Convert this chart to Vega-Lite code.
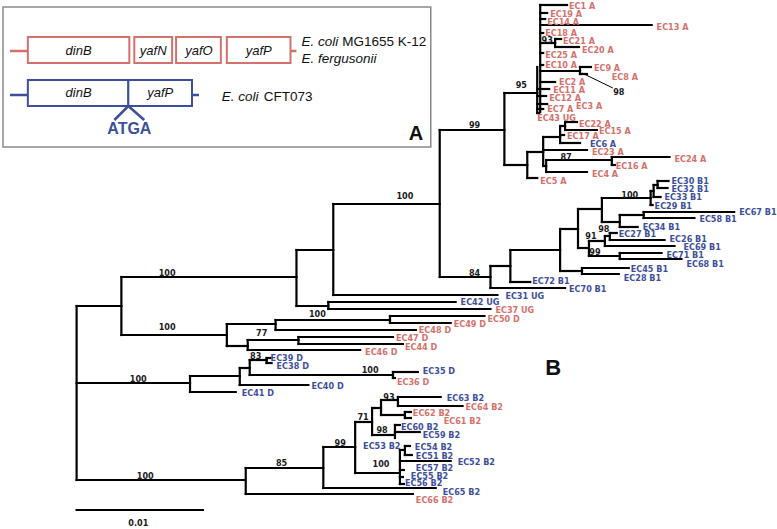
{
  "$schema": "https://vega.github.io/schema/vega-lite/v6.json",
  "width": 777,
  "height": 529,
  "autosize": {"type": "fit", "contains": "padding"},
  "padding": 0,
  "background": "white",
  "config": {"view": {"stroke": null}},
  "encoding": {
    "x": {"field": "x", "type": "quantitative", "scale": {"domain": [0, 777], "nice": false, "zero": false}, "axis": null},
    "y": {"field": "y", "type": "quantitative", "scale": {"domain": [0, 529], "nice": false, "zero": false, "reverse": true}, "axis": null}
  },
  "layer": [
    {
      "data": {"values": [{"x": 3, "y": 7, "x2": 433, "y2": 147}]},
      "mark": {"type": "rect", "fill": "white", "stroke": "#8a8a8a", "strokeWidth": 1.5},
      "encoding": {"x2": {"field": "x2"}, "y2": {"field": "y2"}}
    },
    {
      "data": {"values": [
        {"org": "K12", "x": 10, "y": 51, "x2": 28, "y2": 51},
        {"org": "K12", "x": 292, "y": 51, "x2": 298, "y2": 51},
        {"org": "CFT073", "x": 10, "y": 95, "x2": 28, "y2": 95},
        {"org": "CFT073", "x": 193, "y": 95, "x2": 200, "y2": 95},
        {"org": "CFT073", "x": 129, "y": 106, "x2": 115, "y2": 120},
        {"org": "CFT073", "x": 129, "y": 106, "x2": 145, "y2": 120}
      ]},
      "mark": {"type": "rule", "strokeWidth": 2.5},
      "encoding": {
        "x2": {"field": "x2"}, "y2": {"field": "y2"},
        "color": {"field": "org", "type": "nominal", "scale": {"domain": ["K12", "CFT073"], "range": ["#d4716b", "#3d4f9c"]}, "legend": null}
      }
    },
    {
      "data": {"values": [
        {"org": "K12", "gene": "dinB", "x": 28, "y": 37, "x2": 130, "y2": 63},
        {"org": "K12", "gene": "yafN", "x": 135, "y": 37, "x2": 173, "y2": 63},
        {"org": "K12", "gene": "yafO", "x": 177, "y": 37, "x2": 222, "y2": 63},
        {"org": "K12", "gene": "yafP", "x": 228, "y": 37, "x2": 292, "y2": 63},
        {"org": "CFT073", "gene": "dinB", "x": 28, "y": 80, "x2": 129, "y2": 106},
        {"org": "CFT073", "gene": "yafP", "x": 129, "y": 80, "x2": 193, "y2": 106}
      ]},
      "mark": {"type": "rect", "fill": "white", "strokeWidth": 2},
      "encoding": {
        "x2": {"field": "x2"}, "y2": {"field": "y2"},
        "stroke": {"field": "org", "type": "nominal", "scale": {"domain": ["K12", "CFT073"], "range": ["#d4716b", "#3d4f9c"]}, "legend": null}
      }
    },
    {
      "data": {"values": [
        {"t": "dinB", "x": 79, "y": 51},
        {"t": "yafN", "x": 154, "y": 51},
        {"t": "yafO", "x": 200, "y": 51},
        {"t": "yafP", "x": 260, "y": 51},
        {"t": "dinB", "x": 79, "y": 93},
        {"t": "yafP", "x": 161, "y": 93}
      ]},
      "mark": {"type": "text", "font": "Liberation Sans", "fontSize": 13, "fontStyle": "italic", "align": "center", "baseline": "middle", "color": "#111"},
      "encoding": {"text": {"field": "t"}}
    },
    {
      "data": {"values": [
        {"t": "E. coli", "x": 303, "y": 42},
        {"t": "E. fergusonii", "x": 303, "y": 59},
        {"t": "E. coli", "x": 223, "y": 97}
      ]},
      "mark": {"type": "text", "font": "Liberation Sans", "fontSize": 13.5, "fontStyle": "italic", "align": "left", "baseline": "middle", "color": "#111"},
      "encoding": {"text": {"field": "t"}}
    },
    {
      "data": {"values": [
        {"t": "MG1655 K-12", "x": 344, "y": 42},
        {"t": "CFT073", "x": 265, "y": 97}
      ]},
      "mark": {"type": "text", "font": "Liberation Sans", "fontSize": 13.5, "align": "left", "baseline": "middle", "color": "#111"},
      "encoding": {"text": {"field": "t"}}
    },
    {
      "data": {"values": [{"t": "ATGA", "x": 130, "y": 129}]},
      "mark": {"type": "text", "font": "Liberation Sans", "fontSize": 16, "fontWeight": "bold", "align": "center", "baseline": "middle", "color": "#3d4f9c"},
      "encoding": {"text": {"field": "t"}}
    },
    {
      "data": {"values": [{"t": "A", "x": 418, "y": 134, "s": 20}, {"t": "B", "x": 556, "y": 368, "s": 22}]},
      "mark": {"type": "text", "font": "Liberation Sans", "fontWeight": "bold", "align": "center", "baseline": "middle", "color": "#111"},
      "encoding": {"text": {"field": "t"}, "size": {"field": "s", "type": "quantitative", "scale": null}}
    },
    {
      "data": {"values": [
        {"x":77,"y":306,"x2":77,"y2":480},{"x":77,"y":306,"x2":122,"y2":306},{"x":77,"y":383,"x2":191,"y2":383},{"x":77,"y":480,"x2":247,"y2":480},
        {"x":122,"y":277,"x2":122,"y2":335},{"x":122,"y":277,"x2":298,"y2":277},{"x":122,"y":335,"x2":228,"y2":335},
        {"x":298,"y":250,"x2":298,"y2":306},{"x":298,"y":250,"x2":335,"y2":250},{"x":298,"y":306,"x2":330,"y2":306},
        {"x":330,"y":302,"x2":330,"y2":309},{"x":330,"y":302,"x2":458,"y2":302},{"x":330,"y":309,"x2":493,"y2":309},
        {"x":335,"y":204,"x2":335,"y2":295},{"x":335,"y":204,"x2":442,"y2":204},{"x":335,"y":295,"x2":500,"y2":295},
        {"x":442,"y":130,"x2":442,"y2":277},{"x":442,"y":130,"x2":507,"y2":130},{"x":442,"y":277,"x2":493,"y2":277},
        {"x":493,"y":266,"x2":493,"y2":288},{"x":493,"y":266,"x2":513,"y2":266},{"x":493,"y":288,"x2":568,"y2":288},
        {"x":513,"y":250,"x2":513,"y2":282},{"x":513,"y":282,"x2":533,"y2":282},{"x":513,"y":250,"x2":563,"y2":250},
        {"x":563,"y":229,"x2":563,"y2":271},{"x":563,"y":229,"x2":581,"y2":229},{"x":563,"y":271,"x2":585,"y2":271},
        {"x":585,"y":268,"x2":585,"y2":274},{"x":585,"y":268,"x2":632,"y2":268},{"x":585,"y":274,"x2":622,"y2":274},
        {"x":581,"y":209,"x2":581,"y2":248},{"x":581,"y":209,"x2":605,"y2":209},{"x":581,"y":248,"x2":592,"y2":248},
        {"x":605,"y":198,"x2":605,"y2":222},{"x":605,"y":198,"x2":654,"y2":198},{"x":605,"y":222,"x2":623,"y2":222},
        {"x":623,"y":215,"x2":623,"y2":227},{"x":623,"y":215,"x2":647,"y2":215},{"x":623,"y":227,"x2":641,"y2":227},
        {"x":647,"y":212,"x2":647,"y2":218},{"x":647,"y":212,"x2":738,"y2":212},{"x":647,"y":218,"x2":698,"y2":218},
        {"x":654,"y":191,"x2":654,"y2":205},{"x":654,"y":205,"x2":656,"y2":205},{"x":654,"y":191,"x2":657,"y2":191},
        {"x":657,"y":185,"x2":657,"y2":197},{"x":657,"y":197,"x2":664,"y2":197},{"x":657,"y":185,"x2":661,"y2":185},
        {"x":661,"y":181,"x2":661,"y2":188},{"x":661,"y":181,"x2":672,"y2":181},{"x":661,"y":188,"x2":671,"y2":188},
        {"x":592,"y":241,"x2":592,"y2":256},{"x":592,"y":241,"x2":608,"y2":241},{"x":592,"y":256,"x2":623,"y2":256},
        {"x":623,"y":253,"x2":623,"y2":259},{"x":623,"y":253,"x2":665,"y2":253},{"x":623,"y":259,"x2":685,"y2":259},
        {"x":608,"y":236,"x2":608,"y2":246},{"x":608,"y":236,"x2":613,"y2":236},{"x":608,"y":246,"x2":678,"y2":246},
        {"x":613,"y":233,"x2":613,"y2":240},{"x":613,"y":233,"x2":620,"y2":233},{"x":613,"y":240,"x2":668,"y2":240},
        {"x":228,"y":324,"x2":228,"y2":346},{"x":228,"y":324,"x2":277,"y2":324},{"x":228,"y":346,"x2":249,"y2":346},
        {"x":277,"y":320,"x2":277,"y2":330},{"x":277,"y":320,"x2":392,"y2":320},{"x":277,"y":330,"x2":418,"y2":330},
        {"x":392,"y":316,"x2":392,"y2":323},{"x":392,"y":316,"x2":487,"y2":316},{"x":392,"y":323,"x2":453,"y2":323},
        {"x":249,"y":340,"x2":249,"y2":350},{"x":249,"y":340,"x2":300,"y2":340},{"x":249,"y":350,"x2":362,"y2":350},
        {"x":300,"y":337,"x2":300,"y2":344},{"x":300,"y":337,"x2":395,"y2":337},{"x":300,"y":344,"x2":405,"y2":344},
        {"x":191,"y":376,"x2":191,"y2":392},{"x":191,"y":376,"x2":241,"y2":376},{"x":191,"y":392,"x2":237,"y2":392},
        {"x":241,"y":368,"x2":241,"y2":385},{"x":241,"y":368,"x2":251,"y2":368},{"x":241,"y":385,"x2":310,"y2":385},
        {"x":251,"y":360,"x2":251,"y2":375},{"x":251,"y":360,"x2":268,"y2":360},{"x":251,"y":375,"x2":395,"y2":375},
        {"x":268,"y":358,"x2":268,"y2":363},{"x":268,"y":358,"x2":272,"y2":358},{"x":268,"y":363,"x2":273,"y2":363},
        {"x":395,"y":372,"x2":395,"y2":378},{"x":395,"y":372,"x2":420,"y2":372},{"x":395,"y":378,"x2":397,"y2":378},
        {"x":247,"y":468,"x2":247,"y2":494},{"x":247,"y":468,"x2":325,"y2":468},{"x":247,"y":494,"x2":415,"y2":494},
        {"x":325,"y":447,"x2":325,"y2":488},{"x":325,"y":447,"x2":357,"y2":447},{"x":325,"y":488,"x2":438,"y2":488},
        {"x":357,"y":422,"x2":357,"y2":473},{"x":357,"y":422,"x2":374,"y2":422},{"x":357,"y":473,"x2":402,"y2":473},
        {"x":374,"y":408,"x2":374,"y2":435},{"x":374,"y":408,"x2":383,"y2":408},{"x":374,"y":435,"x2":397,"y2":435},
        {"x":383,"y":400,"x2":383,"y2":415},{"x":383,"y":400,"x2":400,"y2":400},{"x":383,"y":415,"x2":407,"y2":415},
        {"x":400,"y":397,"x2":400,"y2":406},{"x":400,"y":397,"x2":443,"y2":397},{"x":400,"y":406,"x2":465,"y2":406},
        {"x":407,"y":412,"x2":407,"y2":418},{"x":407,"y":412,"x2":413,"y2":412},{"x":407,"y":418,"x2":413,"y2":418},
        {"x":397,"y":425,"x2":397,"y2":438},{"x":397,"y":425,"x2":402,"y2":425},{"x":397,"y":432,"x2":422,"y2":432},
        {"x":402,"y":450,"x2":402,"y2":484},{"x":402,"y":450,"x2":407,"y2":450},
        {"x":407,"y":446,"x2":407,"y2":455},{"x":407,"y":446,"x2":412,"y2":446},{"x":407,"y":455,"x2":414,"y2":455},
        {"x":402,"y":461,"x2":453,"y2":461},{"x":402,"y":470,"x2":406,"y2":470},{"x":402,"y":477,"x2":405,"y2":477},{"x":402,"y":484,"x2":406,"y2":484},
        {"x":507,"y":93,"x2":507,"y2":165},{"x":507,"y":93,"x2":540,"y2":93},{"x":507,"y":165,"x2":530,"y2":165},
        {"x":530,"y":152,"x2":530,"y2":178},{"x":530,"y":178,"x2":540,"y2":178},{"x":530,"y":152,"x2":546,"y2":152},
        {"x":546,"y":137,"x2":546,"y2":166},{"x":546,"y":137,"x2":563,"y2":137},{"x":546,"y":150,"x2":590,"y2":150},{"x":546,"y":166,"x2":549,"y2":166},
        {"x":549,"y":160,"x2":549,"y2":172},{"x":549,"y":160,"x2":615,"y2":160},{"x":549,"y":172,"x2":590,"y2":172},
        {"x":615,"y":157,"x2":615,"y2":165},{"x":615,"y":157,"x2":673,"y2":157},{"x":615,"y":165,"x2":618,"y2":165},
        {"x":563,"y":126,"x2":563,"y2":143},{"x":563,"y":126,"x2":568,"y2":126},{"x":563,"y":135,"x2":567,"y2":135},{"x":563,"y":143,"x2":583,"y2":143},
        {"x":568,"y":122,"x2":568,"y2":130},{"x":568,"y":122,"x2":580,"y2":122},{"x":568,"y":130,"x2":600,"y2":130},
        {"x":540,"y":67,"x2":540,"y2":113},{"x":543,"y":5,"x2":543,"y2":112},
        {"x":543,"y":5,"x2":570,"y2":5},{"x":543,"y":13,"x2":550,"y2":13},{"x":543,"y":19,"x2":548,"y2":19},{"x":543,"y":25,"x2":655,"y2":25},
        {"x":543,"y":33,"x2":546,"y2":33},{"x":543,"y":43,"x2":558,"y2":43},
        {"x":558,"y":39,"x2":558,"y2":47},{"x":558,"y":39,"x2":564,"y2":39},{"x":558,"y":47,"x2":582,"y2":47},
        {"x":543,"y":53,"x2":546,"y2":53},{"x":543,"y":65,"x2":546,"y2":65},{"x":543,"y":71,"x2":583,"y2":71},
        {"x":583,"y":67,"x2":583,"y2":74},{"x":583,"y":67,"x2":594,"y2":67},{"x":583,"y":74,"x2":590,"y2":74},
        {"x":543,"y":82,"x2":558,"y2":82},{"x":540,"y":89,"x2":552,"y2":89},{"x":540,"y":96,"x2":549,"y2":96},
        {"x":540,"y":104,"x2":550,"y2":104},{"x":540,"y":109,"x2":546,"y2":109},{"x":540,"y":113,"x2":542,"y2":113},
        {"x":77,"y":510,"x2":204,"y2":510}
      ]},
      "mark": {"type": "rule", "strokeWidth": 2.2, "strokeCap": "square", "color": "#000"},
      "encoding": {"x2": {"field": "x2"}, "y2": {"field": "y2"}}
    },
    {
      "data": {"values": [{"x": 585, "y": 73, "x2": 616, "y2": 88}]},
      "mark": {"type": "rule", "strokeWidth": 1, "color": "#000"},
      "encoding": {"x2": {"field": "x2"}, "y2": {"field": "y2"}}
    },
    {
      "data": {"values": [
        {"t":"EC1 A","x":572,"y":6,"k":"K12-like"},{"t":"EC19 A","x":553,"y":14,"k":"K12-like"},{"t":"EC14 A","x":550,"y":22,"k":"K12-like"},
        {"t":"EC13 A","x":660,"y":27,"k":"K12-like"},{"t":"EC18 A","x":548,"y":33,"k":"K12-like"},{"t":"EC21 A","x":566,"y":41,"k":"K12-like"},
        {"t":"EC20 A","x":585,"y":50,"k":"K12-like"},{"t":"EC25 A","x":548,"y":55,"k":"K12-like"},{"t":"EC10 A","x":548,"y":65,"k":"K12-like"},
        {"t":"EC9 A","x":597,"y":68,"k":"other"},{"t":"EC8 A","x":615,"y":77,"k":"K12-like"},{"t":"EC2 A","x":562,"y":82,"k":"K12-like"},
        {"t":"EC11 A","x":556,"y":90,"k":"K12-like"},{"t":"EC12 A","x":552,"y":98,"k":"K12-like"},{"t":"EC3 A","x":579,"y":106,"k":"K12-like"},
        {"t":"EC7 A","x":550,"y":109,"k":"K12-like"},{"t":"EC43 UG","x":540,"y":118,"k":"K12-like"},{"t":"EC22 A","x":582,"y":124,"k":"K12-like"},
        {"t":"EC15 A","x":602,"y":131,"k":"K12-like"},{"t":"EC17 A","x":570,"y":136,"k":"K12-like"},{"t":"EC6 A","x":593,"y":144,"k":"CFT073-like"},
        {"t":"EC23 A","x":595,"y":152,"k":"K12-like"},{"t":"EC24 A","x":678,"y":159,"k":"K12-like"},{"t":"EC16 A","x":619,"y":166,"k":"K12-like"},
        {"t":"EC4 A","x":595,"y":174,"k":"K12-like"},{"t":"EC5 A","x":543,"y":181,"k":"other"},
        {"t":"EC30 B1","x":675,"y":181,"k":"CFT073-like"},{"t":"EC32 B1","x":675,"y":189,"k":"CFT073-like"},{"t":"EC33 B1","x":668,"y":197,"k":"CFT073-like"},
        {"t":"EC29 B1","x":658,"y":206,"k":"CFT073-like"},{"t":"EC67 B1","x":743,"y":212,"k":"CFT073-like"},{"t":"EC58 B1","x":703,"y":219,"k":"CFT073-like"},
        {"t":"EC34 B1","x":646,"y":227,"k":"CFT073-like"},{"t":"EC27 B1","x":622,"y":234,"k":"CFT073-like"},{"t":"EC26 B1","x":673,"y":239,"k":"CFT073-like"},
        {"t":"EC69 B1","x":687,"y":247,"k":"CFT073-like"},{"t":"EC71 B1","x":670,"y":255,"k":"CFT073-like"},{"t":"EC68 B1","x":690,"y":264,"k":"CFT073-like"},
        {"t":"EC45 B1","x":634,"y":269,"k":"CFT073-like"},{"t":"EC28 B1","x":627,"y":278,"k":"CFT073-like"},{"t":"EC72 B1","x":535,"y":281,"k":"CFT073-like"},
        {"t":"EC70 B1","x":572,"y":289,"k":"CFT073-like"},{"t":"EC31 UG","x":508,"y":296,"k":"CFT073-like"},
        {"t":"EC42 UG","x":463,"y":302,"k":"CFT073-like"},{"t":"EC37 UG","x":498,"y":310,"k":"K12-like"},{"t":"EC50 D","x":490,"y":319,"k":"K12-like"},
        {"t":"EC49 D","x":456,"y":324,"k":"K12-like"},{"t":"EC48 D","x":421,"y":330,"k":"K12-like"},{"t":"EC47 D","x":398,"y":338,"k":"other"},
        {"t":"EC44 D","x":407,"y":347,"k":"K12-like"},{"t":"EC46 D","x":367,"y":352,"k":"K12-like"},{"t":"EC39 D","x":272,"y":358,"k":"CFT073-like"},
        {"t":"EC38 D","x":278,"y":366,"k":"CFT073-like"},{"t":"EC35 D","x":425,"y":371,"k":"CFT073-like"},{"t":"EC36 D","x":399,"y":382,"k":"K12-like"},
        {"t":"EC40 D","x":313,"y":386,"k":"CFT073-like"},{"t":"EC41 D","x":243,"y":393,"k":"CFT073-like"},
        {"t":"EC63 B2","x":449,"y":398,"k":"CFT073-like"},{"t":"EC64 B2","x":468,"y":407,"k":"other"},{"t":"EC62 B2","x":415,"y":413,"k":"K12-like"},
        {"t":"EC61 B2","x":446,"y":421,"k":"K12-like"},{"t":"EC60 B2","x":403,"y":427,"k":"CFT073-like"},{"t":"EC59 B2","x":425,"y":435,"k":"CFT073-like"},
        {"t":"EC53 B2","x":365,"y":446,"k":"CFT073-like"},{"t":"EC54 B2","x":417,"y":447,"k":"CFT073-like"},{"t":"EC51 B2","x":418,"y":456,"k":"CFT073-like"},
        {"t":"EC52 B2","x":460,"y":462,"k":"CFT073-like"},{"t":"EC57 B2","x":418,"y":468,"k":"CFT073-like"},{"t":"EC55 B2","x":413,"y":476,"k":"CFT073-like"},
        {"t":"EC56 B2","x":407,"y":483,"k":"CFT073-like"},{"t":"EC65 B2","x":445,"y":492,"k":"CFT073-like"},{"t":"EC66 B2","x":418,"y":500,"k":"K12-like"}
      ]},
      "mark": {"type": "text", "font": "DejaVu Sans Condensed, Liberation Sans Narrow, sans-serif", "fontSize": 9, "fontWeight": "bold", "align": "left", "baseline": "middle"},
      "encoding": {
        "text": {"field": "t"},
        "color": {"field": "k", "type": "nominal", "scale": {"domain": ["K12-like", "CFT073-like", "other"], "range": ["#a8301f", "#3f5ca8", "#1a1a1a"]}, "legend": null}
      }
    },
    {
      "data": {"values": [
        {"t":"95","x":524,"y":85},{"t":"93","x":550,"y":40},{"t":"98","x":622,"y":92},{"t":"99","x":477,"y":125},{"t":"87","x":569,"y":157},
        {"t":"100","x":407,"y":196},{"t":"100","x":633,"y":195},{"t":"98","x":607,"y":229},{"t":"91","x":594,"y":236},{"t":"99","x":598,"y":252},
        {"t":"84","x":477,"y":273},{"t":"100","x":168,"y":273},{"t":"100","x":168,"y":327},{"t":"100","x":319,"y":314},{"t":"77","x":263,"y":333},
        {"t":"83","x":257,"y":356},{"t":"100","x":372,"y":370},{"t":"100","x":139,"y":379},{"t":"93","x":391,"y":397},{"t":"71","x":365,"y":417},
        {"t":"98","x":384,"y":430},{"t":"99","x":342,"y":443},{"t":"100","x":383,"y":464},{"t":"85","x":283,"y":463},{"t":"100","x":146,"y":476},
        {"t":"0.01","x":139,"y":523}
      ]},
      "mark": {"type": "text", "font": "DejaVu Sans Condensed, Liberation Sans Narrow, sans-serif", "fontSize": 9, "fontWeight": "bold", "align": "center", "baseline": "middle", "color": "#1a1a1a"},
      "encoding": {"text": {"field": "t"}}
    }
  ]
}
